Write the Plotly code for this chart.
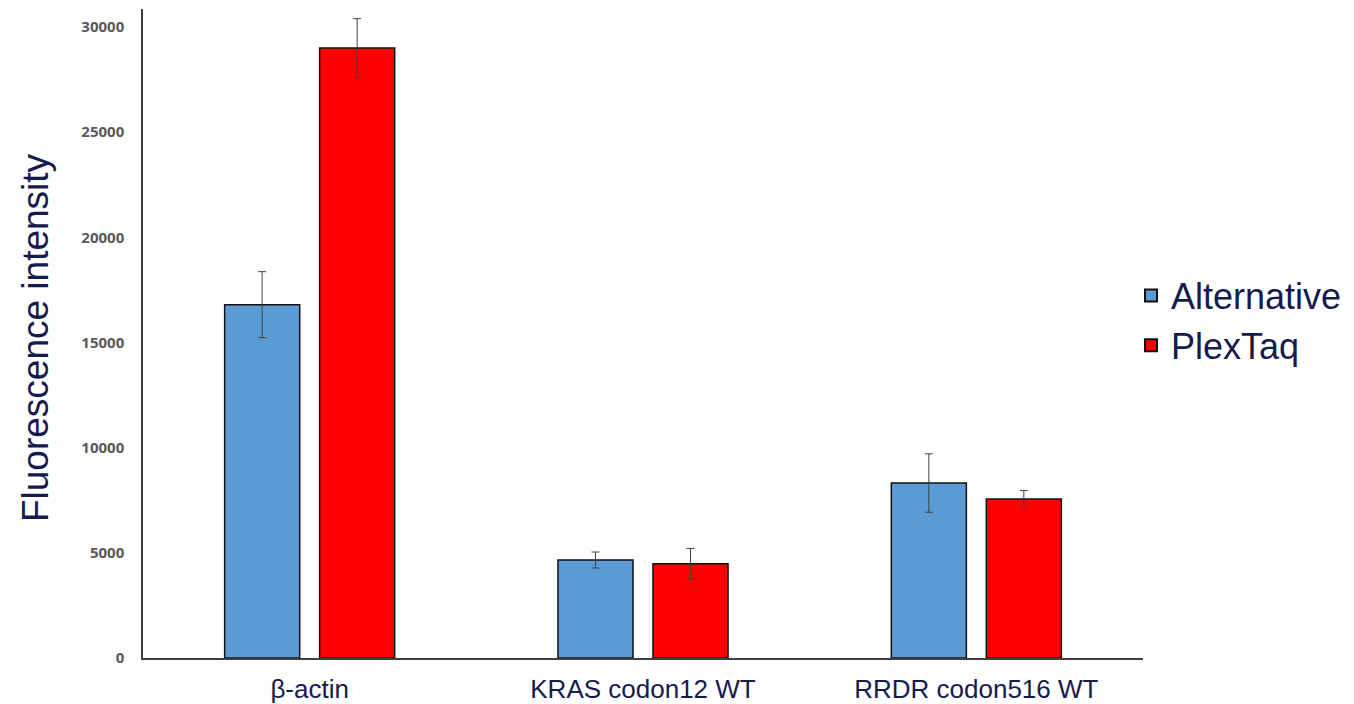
import plotly.graph_objects as go

categories = ["β-actin", "KRAS codon12 WT", "RRDR codon516 WT"]
alternative = [16800, 4660, 8320]
alternative_err = [1570, 380, 1390]
plextaq = [29000, 4480, 7560]
plextaq_err = [1400, 730, 400]
y_ticks = [0, 5000, 10000, 15000, 20000, 25000, 30000]

navy = "#151a4f"

fig = go.Figure()
fig.add_trace(go.Bar(
    name="Alternative", x=categories, y=alternative,
    marker=dict(color="#5b9bd5", line=dict(color="#111111", width=1.5)),
    error_y=dict(type="data", array=alternative_err, color="#404040", thickness=1, width=4),
))
fig.add_trace(go.Bar(
    name="PlexTaq", x=categories, y=plextaq,
    marker=dict(color="#ff0000", line=dict(color="#111111", width=1.5)),
    error_y=dict(type="data", array=plextaq_err, color="#404040", thickness=1, width=4),
))

# y-axis title drawn as a rotated annotation for precise placement
fig.add_annotation(
    text="Fluorescence intensity", textangle=-90,
    xref="paper", yref="paper", x=-0.108, y=0.493,
    xanchor="center", yanchor="middle", showarrow=False,
    font=dict(family="Liberation Sans, Arial", size=37, color=navy),
)

fig.update_layout(
    width=1354, height=704,
    margin=dict(l=143, r=211, t=9, b=46, autoexpand=False),
    paper_bgcolor="white", plot_bgcolor="white",
    barmode="group", bargap=0.43, bargroupgap=0.21,
    showlegend=True,
    legend=dict(
        x=0.988, xanchor="left", y=0.52, yanchor="middle",
        font=dict(family="Liberation Sans, Arial", size=36, color=navy),
        tracegroupgap=0, itemsizing="constant",
    ),
    xaxis=dict(
        automargin=False,
        showline=True, linecolor="#404040", linewidth=1.5,
        showgrid=False, ticks="outside", ticklen=7, tickcolor="rgba(0,0,0,0)",
        tickfont=dict(family="Liberation Sans, Arial", size=26, color=navy),
    ),
    yaxis=dict(
        automargin=False,
        range=[0, 30860], tickvals=y_ticks, tickformat="d",
        showline=True, linecolor="#404040", linewidth=1.5,
        showgrid=False, zeroline=False,
        ticks="outside", ticklen=14, tickcolor="rgba(0,0,0,0)",
        tickfont=dict(family="Open Sans", size=15, color="#595959", weight="bold"),
    ),
)

fig.write_html("out.html")
